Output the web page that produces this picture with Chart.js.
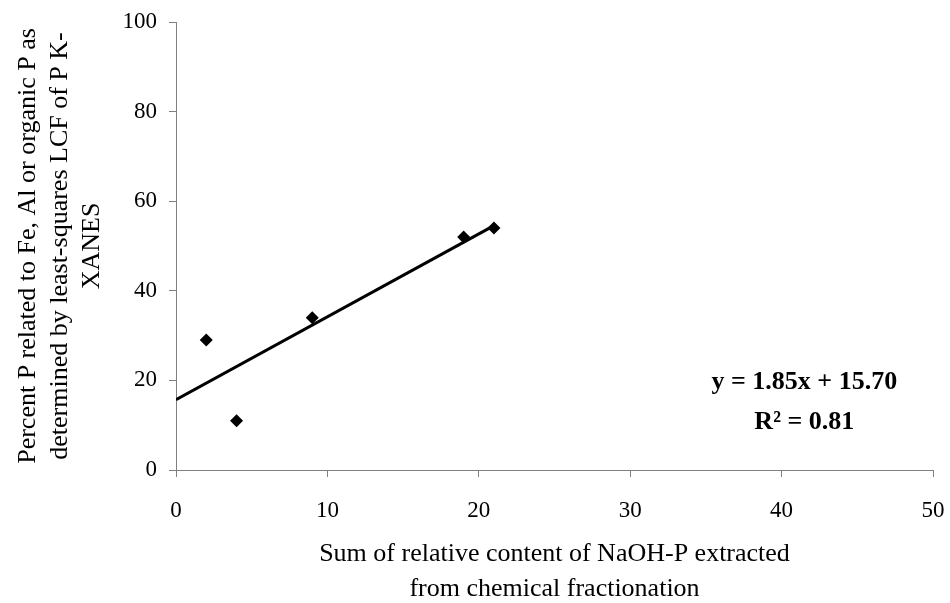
<!DOCTYPE html>
<html>
<head>
<meta charset="utf-8">
<script src="https://cdn.jsdelivr.net/npm/chart.js@4.4.1/dist/chart.umd.min.js"></script>
<style>
  html, body { margin: 0; padding: 0; background: #fff; }
  #wrap { width: 950px; height: 603px; position: relative; }
</style>
</head>
<body>
<div id="wrap"><canvas id="fit"></canvas></div>
<script>
// sample values
const naohP = [2, 4, 9, 19, 21];
const xanesP = [29, 11, 34, 52, 54];

// fitted trend line, as printed on the chart
const slope = 1.85;
const intercept = 15.70;
const r2 = 0.81;
const trendX = [0, 21];

const xTicks = [0, 10, 20, 30, 40, 50];
const yTicks = [0, 20, 40, 60, 80, 100];

const axisGrey = '#808080';

document.addEventListener("DOMContentLoaded", function () {

    let ctx = document.getElementById("fit");

    // equation + R² text box, placed in data units
    let equationLabel = {
        id: 'equationLabel',
        afterDatasetsDraw(chart) {
            let c = chart.ctx;
            let x = chart.scales.x.getPixelForValue(41.5);
            let y = chart.scales.y.getPixelForValue(19.6);
            c.save();
            c.fillStyle = '#000';
            c.font = 'bold 26px "Liberation Serif"';
            c.textAlign = 'center';
            c.textBaseline = 'middle';
            c.fillText('y = ' + slope.toFixed(2) + 'x + ' + intercept.toFixed(2), x, y);
            c.fillText('R\u00B2 = ' + r2.toFixed(2), x, y + 40);
            c.restore();
        }
    };

    new Chart(ctx, {
        type: 'scatter',
        data: {
            datasets: [{
                data: naohP.map((v, i) => ({ x: v, y: xanesP[i] })),
                pointStyle: 'rectRot',
                pointRadius: 6.5,
                pointHoverRadius: 6.5,
                backgroundColor: '#000',
                borderColor: '#000',
                borderWidth: 0,
                order: 1
            }, {
                type: 'line',
                data: trendX.map(v => ({ x: v, y: slope * v + intercept })),
                borderColor: '#000',
                borderWidth: 3,
                pointRadius: 0,
                fill: false,
                tension: 0,
                order: 2
            }]
        },
        options: {
            responsive: true,
            maintainAspectRatio: false,
            animation: false,
            layout: {
                padding: { left: 0, top: 22, right: 17, bottom: 0 }
            },
            plugins: {
                legend: { display: false },
                tooltip: { enabled: false }
            },
            scales: {
                x: {
                    type: 'linear',
                    min: 0,
                    max: 50,
                    afterBuildTicks: s => { s.ticks = xTicks.map(v => ({ value: v })); },
                    afterFit: s => { s.height = 133; s.paddingLeft = 0; s.paddingRight = 0; },
                    grid: {
                        drawOnChartArea: false,
                        tickLength: 7,
                        color: axisGrey
                    },
                    border: { color: axisGrey, width: 1 },
                    ticks: {
                        color: '#000',
                        padding: 20,
                        maxRotation: 0,
                        font: { family: '"Liberation Serif"', size: 23 }
                    },
                    title: {
                        display: true,
                        text: ['Sum of relative content of NaOH-P extracted', 'from chemical fractionation'],
                        color: '#000',
                        font: { family: '"Liberation Serif"', size: 26, lineHeight: 35 / 26 },
                        padding: { top: 0, bottom: -4 }
                    }
                },
                y: {
                    type: 'linear',
                    min: 0,
                    max: 100,
                    afterBuildTicks: s => { s.ticks = yTicks.map(v => ({ value: v })); },
                    afterFit: s => { s.width = 176; s.paddingTop = 0; s.paddingBottom = 0; },
                    grid: {
                        drawOnChartArea: false,
                        tickLength: 7,
                        color: axisGrey
                    },
                    border: { color: axisGrey, width: 1 },
                    ticks: {
                        color: '#000',
                        padding: 12,
                        font: { family: '"Liberation Serif"', size: 23 }
                    },
                    title: {
                        display: true,
                        text: ['Percent P related to Fe, Al or organic P as', 'determined by least-squares LCF of P K-', 'XANES'],
                        color: '#000',
                        font: { family: '"Liberation Serif"', size: 26, lineHeight: 32 / 26 },
                        padding: { top: 12, bottom: 0 }
                    }
                }
            }
        },
        plugins: [equationLabel]
    });

});
</script>
</body>
</html>
